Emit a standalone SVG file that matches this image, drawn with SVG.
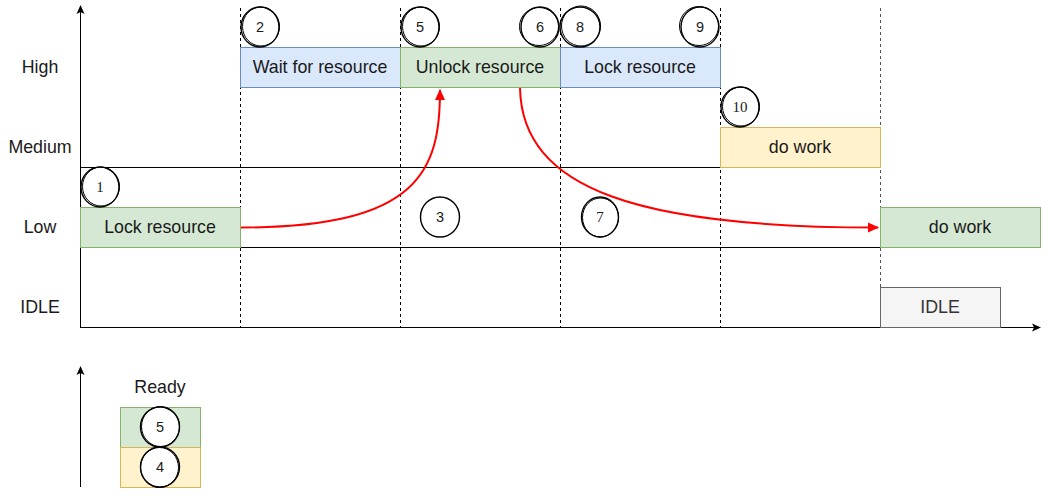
<svg xmlns="http://www.w3.org/2000/svg" width="1049" height="496" viewBox="0 0 1049 496">
<style>
.lbl{font-family:"Liberation Sans",Arial,sans-serif;font-size:17.8px;fill:#1a1a1a;text-anchor:middle;dominant-baseline:central}
.num{font-family:"Liberation Sans",Arial,sans-serif;font-size:14.5px;fill:#1a1a1a;text-anchor:middle;dominant-baseline:central}
.nums{font-family:"Liberation Serif","Times New Roman",serif;font-size:15px;fill:#1a1a1a;text-anchor:middle;dominant-baseline:central}
.green{fill:#d5e8d4;stroke:#82b366;stroke-width:1}
.blue{fill:#dae8fc;stroke:#6c8ebf;stroke-width:1}
.yellow{fill:#fff2cc;stroke:#d6b656;stroke-width:1}
.grey{fill:#f5f5f5;stroke:#666666;stroke-width:1}
.ax{stroke:#000;stroke-width:1;fill:none}
.dash{stroke:#000;stroke-width:1;stroke-dasharray:3 3;fill:none}
.red{stroke:#ff0000;stroke-width:2;fill:none}
.c{fill:#fff;stroke:#000;stroke-width:1.4}
.c2{fill:none;stroke:#000;stroke-width:1}
</style>
<defs>
<marker id="ah" markerWidth="10" markerHeight="10" refX="8" refY="5" orient="auto" markerUnits="userSpaceOnUse"><path d="M0,1 L9,5 L0,9 L2,5 Z" fill="#000"/></marker>
<marker id="rh" markerWidth="12" markerHeight="12" refX="10" refY="6" orient="auto" markerUnits="userSpaceOnUse"><path d="M0,1 L11,6 L0,11 Z" fill="#ff0000"/></marker>
</defs>
<g id="grid">
<line class="dash" x1="240.5" y1="8" x2="240.5" y2="327"/>
<line class="dash" x1="400.5" y1="8" x2="400.5" y2="327"/>
<line class="dash" x1="560.5" y1="8" x2="560.5" y2="327"/>
<line class="dash" x1="720.5" y1="8" x2="720.5" y2="327"/>
<line class="dash" x1="880.5" y1="8" x2="880.5" y2="327" style="stroke:#555"/>
<line class="ax" x1="80" y1="167.5" x2="720" y2="167.5"/>
<line class="ax" x1="80" y1="247.5" x2="880" y2="247.5"/>
<line class="ax" x1="80.5" y1="327" x2="80.5" y2="6" marker-end="url(#ah)"/>
<line class="ax" x1="80" y1="327.5" x2="1040" y2="327.5" marker-end="url(#ah)"/>
</g>
<g id="labels">
<text class="lbl" x="40" y="67">High</text>
<text class="lbl" x="40" y="147">Medium</text>
<text class="lbl" x="40" y="227">Low</text>
<text class="lbl" x="40" y="307">IDLE</text>
</g>
<g id="low-lock"><rect class="green" x="80.5" y="207.5" width="160" height="40"/><text class="lbl" x="160" y="227">Lock resource</text></g>
<g id="high-wait"><rect class="blue" x="240.5" y="47.5" width="160" height="40"/><text class="lbl" x="320" y="67">Wait for resource</text></g>
<g id="high-unlock"><rect class="green" x="400.5" y="47.5" width="160" height="40"/><text class="lbl" x="480" y="67">Unlock resource</text></g>
<g id="high-lock"><rect class="blue" x="560.5" y="47.5" width="160" height="40"/><text class="lbl" x="640" y="67">Lock resource</text></g>
<g id="med-work"><rect class="yellow" x="720.5" y="127.5" width="160" height="40"/><text class="lbl" x="800" y="147">do work</text></g>
<g id="low-work"><rect class="green" x="880.5" y="207.5" width="160" height="40"/><text class="lbl" x="960" y="227">do work</text></g>
<g id="idle"><rect class="grey" x="880.5" y="287.5" width="120" height="40"/><text class="lbl" x="940" y="307" style="fill:#333">IDLE</text></g>
<g id="connectors">
<path class="red" d="M241 227.5 C 420 227.5 440 170 440 90" marker-end="url(#rh)"/>
<path class="red" d="M520 88 C 522 190 640 227.5 878 227.5" marker-end="url(#rh)"/>
</g>
<g id="c1"><ellipse class="c" cx="100" cy="187" rx="19" ry="20"/><ellipse class="c2" cx="101" cy="186.5" rx="18.5" ry="19.5"/><text class="nums" x="100" y="187">1</text></g>
<g id="c2"><ellipse class="c" cx="260" cy="27" rx="19" ry="20"/><ellipse class="c2" cx="261" cy="26.5" rx="18.5" ry="19.5"/><text class="num" x="260" y="27">2</text></g>
<g id="c5"><ellipse class="c" cx="420" cy="27" rx="19" ry="20"/><ellipse class="c2" cx="421" cy="26.5" rx="18.5" ry="19.5"/><text class="num" x="420" y="27">5</text></g>
<g id="c6"><ellipse class="c" cx="540" cy="27" rx="19" ry="20"/><ellipse class="c2" cx="539" cy="26.5" rx="19.5" ry="19"/><text class="num" x="540" y="27">6</text></g>
<g id="c8"><ellipse class="c" cx="580" cy="27" rx="20" ry="20"/><ellipse class="c2" cx="581" cy="26" rx="19.5" ry="20"/><text class="num" x="580" y="27">8</text></g>
<g id="c9"><ellipse class="c" cx="700" cy="27" rx="19" ry="20"/><ellipse class="c2" cx="699" cy="26" rx="19.5" ry="19.5"/><text class="num" x="700" y="27">9</text></g>
<g id="c10"><ellipse class="c" cx="740" cy="107" rx="19" ry="20"/><ellipse class="c2" cx="741" cy="106.5" rx="18.5" ry="19.5"/><text class="nums" x="740" y="107">10</text></g>
<g id="c3"><ellipse class="c" cx="440" cy="217" rx="19.5" ry="20"/><text class="num" x="440" y="217">3</text></g>
<g id="c7"><ellipse class="c" cx="600" cy="217" rx="18.5" ry="20"/><ellipse class="c2" cx="600.5" cy="217.5" rx="18" ry="19.5"/><text class="nums" x="600" y="217">7</text></g>
<g id="legend">
<line class="ax" x1="80.5" y1="487" x2="80.5" y2="367" marker-end="url(#ah)"/>
<text class="lbl" x="160" y="387">Ready</text>
<rect class="green" x="120.5" y="407.5" width="80" height="40"/>
<rect class="yellow" x="120.5" y="447.5" width="80" height="40"/>
</g>
<g id="r5"><ellipse class="c" cx="160" cy="427" rx="19.5" ry="20"/><ellipse class="c2" cx="160.5" cy="426.5" rx="19" ry="20"/><text class="num" x="160" y="427">5</text></g>
<g id="r4"><ellipse class="c" cx="160" cy="467" rx="19.5" ry="20"/><ellipse class="c2" cx="159.5" cy="467.5" rx="19" ry="20"/><text class="num" x="160" y="467">4</text></g>
</svg>
